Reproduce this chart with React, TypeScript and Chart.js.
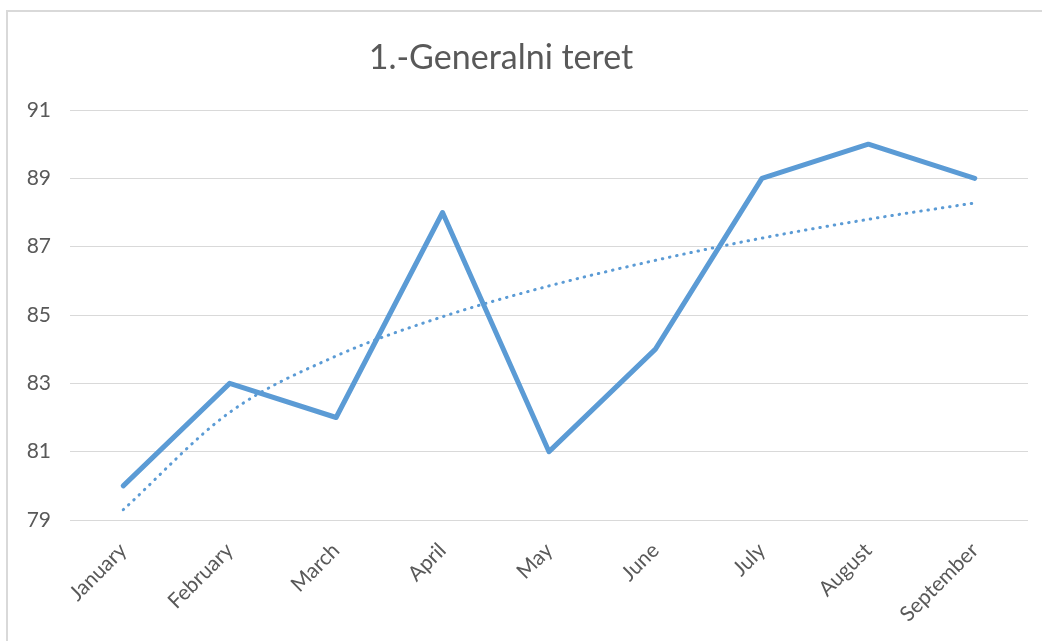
import React, { useEffect, useRef } from "react";
import { Chart, registerables } from "chart.js";

Chart.register(...registerables);

const titleText = "1.-Generalni teret";
const months = ["January", "February", "March", "April", "May", "June", "July", "August", "September"];
const cargoValues = [80, 83, 82, 88, 81, 84, 89, 90, 89];
const trendValues = [79.3, 82.15, 83.8, 84.95, 85.85, 86.6, 87.25, 87.8, 88.28];
const yMin = 79;
const yMax = 91;
const yStep = 2;

const FONT = "Lato, 'Open Sans', sans-serif";
const TEXT_COLOR = "#595959";
const LINE_COLOR = "#5b9bd5";

const titlePlugin = {
  id: "customTitle",
  afterDraw(chart: any) {
    const ctx = chart.ctx;
    ctx.save();
    ctx.font = `34px ${FONT}`;
    ctx.fillStyle = TEXT_COLOR;
    ctx.textAlign = "center";
    ctx.textBaseline = "middle";
    ctx.fillText(titleText, 501, 58);
    ctx.restore();
  },
};

export default function App() {
  const canvasRef = useRef<HTMLCanvasElement | null>(null);

  useEffect(() => {
    if (!canvasRef.current) return;
    const chart = new Chart(canvasRef.current, {
      type: "line",
      data: {
        labels: months,
        datasets: [
          {
            label: "1.-Generalni teret",
            data: cargoValues,
            borderColor: LINE_COLOR,
            backgroundColor: LINE_COLOR,
            borderWidth: 5,
            borderCapStyle: "round",
            borderJoinStyle: "round",
            pointRadius: 0,
            tension: 0,
            order: 1,
          },
          {
            label: "Trend",
            data: trendValues,
            borderColor: LINE_COLOR,
            backgroundColor: LINE_COLOR,
            borderWidth: 3,
            borderDash: [0.5, 6.8],
            borderCapStyle: "round",
            pointRadius: 0,
            cubicInterpolationMode: "monotone",
            order: 2,
          },
        ],
      },
      options: {
        animation: false,
        responsive: false,
        maintainAspectRatio: false,
        layout: { padding: { top: 110, right: 14, bottom: 0, left: 0 } },
        plugins: {
          legend: { display: false },
          title: { display: false },
          tooltip: { enabled: false },
        },
        scales: {
          x: {
            offset: true,
            grid: { display: false },
            border: { display: false },
            ticks: {
              color: TEXT_COLOR,
              font: { family: FONT, size: 21 },
              minRotation: 45,
              maxRotation: 45,
              padding: 10,
              autoSkip: false,
            },
            afterFit(scale: any) {
              scale.height = 121;
            },
          },
          y: {
            min: yMin,
            max: yMax,
            grid: { color: "#d9d9d9", lineWidth: 1, drawTicks: false },
            border: { display: false },
            ticks: {
              stepSize: yStep,
              color: TEXT_COLOR,
              font: { family: FONT, size: 21 },
              padding: 19,
            },
            afterFit(scale: any) {
              scale.width = 70;
            },
          },
        },
      },
      plugins: [titlePlugin],
    });
    return () => chart.destroy();
  }, []);

  return (
    <div style={{ position: "fixed", left: 0, top: 0, width: 1042, height: 641, background: "#fff" }}>
      <div
        style={{
          position: "absolute",
          left: 6,
          top: 10,
          width: 1100,
          height: 700,
          border: "2px solid #d9d9d9",
          boxSizing: "border-box",
        }}
      />
      <canvas
        ref={canvasRef}
        width={1042}
        height={641}
        style={{ position: "absolute", left: 0, top: 0, width: 1042, height: 641 }}
      />
    </div>
  );
}
